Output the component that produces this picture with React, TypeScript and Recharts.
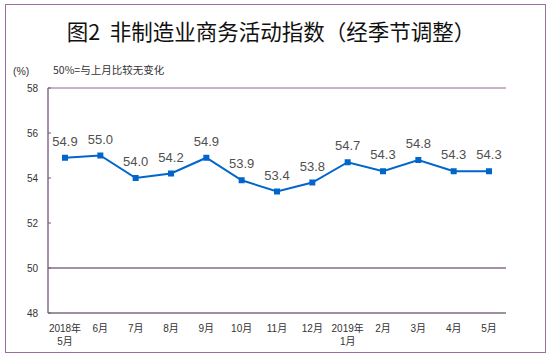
import React from 'react';
import { LineChart, Line, XAxis, YAxis, ReferenceLine, LabelList } from 'recharts';

const months = ['2018年\n5月', '6月', '7月', '8月', '9月', '10月', '11月', '12月', '2019年\n1月', '2月', '3月', '4月', '5月'];
const values = [54.9, 55.0, 54.0, 54.2, 54.9, 53.9, 53.4, 53.8, 54.7, 54.3, 54.8, 54.3, 54.3];
const yTicks = [48, 50, 52, 54, 56, 58];
const titleText = '图2  非制造业商务活动指数（经季节调整）';
const unitText = '(%)';
const noteText = '50%=与上月比较无变化';

const data = months.map((m, i) => ({ month: m, value: values[i] }));

const LINE = '#0066CC';
const FRAME = '#8a6a8e';
const FONT = "'Liberation Sans', 'Noto Sans CJK SC', sans-serif";

const XTick = (props: any) => {
  const { x, y, payload } = props;
  const lines = String(payload.value).split('\n');
  return (
    <text x={x} y={y} textAnchor="middle" fontSize={10} fill="#333" fontFamily={FONT}>
      {lines.map((l, i) => (
        <tspan key={i} x={x} dy={i === 0 ? 18.5 : 13}>{l}</tspan>
      ))}
    </text>
  );
};

const SquareDot = (props: any) => {
  const { cx, cy, index } = props;
  if (cx == null || cy == null) return null;
  return <rect key={index} x={cx - 3} y={cy - 3} width={6} height={6} fill={LINE} />;
};

export default function App() {
  return (
    <div style={{ position: 'absolute', left: 0, top: 0, width: 550, height: 358, background: '#fff', fontFamily: FONT }}>
      <div style={{ position: 'absolute', left: 5, top: 4, width: 541, height: 349, border: '1.5px solid #9b6fa0', boxSizing: 'border-box' }} />
      <div style={{ position: 'absolute', left: 0, top: 17, width: 542, textAlign: 'center', fontSize: 21.5, fontWeight: 400, color: '#111', fontFamily: "'Noto Sans CJK SC', sans-serif", lineHeight: '28px', whiteSpace: 'pre' }}>
        {titleText}
      </div>
      <div style={{ position: 'absolute', left: 13, top: 64, fontSize: 10.5, color: '#333', lineHeight: '14px' }}>{unitText}</div>
      <div style={{ position: 'absolute', left: 53, top: 63, fontSize: 10.5, color: '#333', lineHeight: '14px', fontFamily: "'Noto Sans CJK SC', sans-serif" }}>{noteText}</div>
      <div style={{ position: 'absolute', left: 0, top: 0 }}>
        <LineChart width={550} height={358} data={data} margin={{ top: 88, right: 44, bottom: 15, left: 0 }}>
          <XAxis
            dataKey="month"
            interval={0}
            padding={{ left: 17, right: 17 }}
            axisLine={{ stroke: '#7a6e7c', strokeWidth: 1.5 }}
            tickLine={false}
            tickSize={0}
            tickMargin={0}
            height={30}
            tick={<XTick />}
          />
          <YAxis
            yAxisId="left"
            domain={[48, 58]}
            ticks={yTicks}
            width={48}
            interval={0}
            axisLine={{ stroke: FRAME, strokeWidth: 1.5 }}
            tickLine={{ stroke: '#666' }}
            tickSize={-3}
            tickMargin={13}
            tick={{ fontSize: 10, fill: '#333', fontFamily: FONT }}
          />
          <YAxis
            yAxisId="right"
            orientation="right"
            domain={[48, 58]}
            width={0}
            tick={false}
            tickLine={false}
            axisLine={{ stroke: '#7a6e7c', strokeWidth: 1.5 }}
          />
          <ReferenceLine yAxisId="left" y={58} stroke={FRAME} strokeWidth={1} />
          <ReferenceLine yAxisId="left" y={50} stroke={FRAME} strokeWidth={1.5} />
          <Line
            yAxisId="left"
            type="linear"
            dataKey="value"
            stroke={LINE}
            strokeWidth={2}
            dot={<SquareDot />}
            activeDot={false}
            isAnimationActive={false}
          >
            <LabelList dataKey="value" position="top" offset={12} fontSize={13} fill="#505050" fontFamily={FONT} formatter={(v: any) => Number(v).toFixed(1)} />
          </Line>
        </LineChart>
      </div>
    </div>
  );
}
